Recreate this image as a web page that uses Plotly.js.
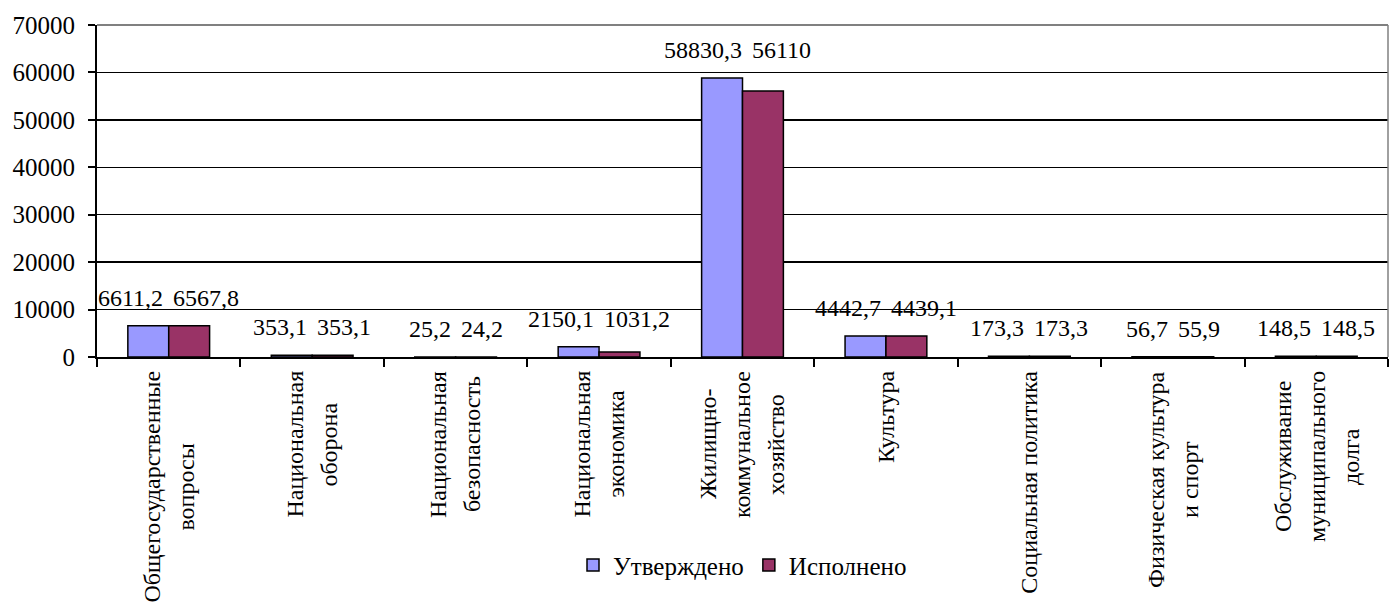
<!DOCTYPE html>
<html>
<head>
<meta charset="utf-8">
<script src="https://cdn.plot.ly/plotly-3.0.1.min.js"></script>
<style>html,body{margin:0;padding:0;background:#fff;}#chart{width:1390px;height:606px;}</style>
</head>
<body>
<div id="chart"></div>
<script>
const categories = [
  "Общегосударственные<br>вопросы",
  "Национальная<br>оборона",
  "Национальная<br>безопасность",
  "Национальная<br>экономика",
  "Жилищно-<br>коммунальное<br>хозяйство",
  "Культура",
  "Социальная политика",
  "Физическая культура<br>и спорт",
  "Обслуживание<br>муниципального<br>долга"
];
const approved = [6611.2, 353.1, 25.2, 2150.1, 58830.3, 4442.7, 173.3, 56.7, 148.5];
const executed = [6567.8, 353.1, 24.2, 1031.2, 56110, 4439.1, 173.3, 55.9, 148.5];
const seriesNames = ["Утверждено", "Исполнено"];
const yTicks = [0, 10000, 20000, 30000, 40000, 50000, 60000, 70000];

const FONT = '"Liberation Serif", "Times New Roman", Times, serif';
const FS = 24;
const fmt = v => String(v).replace('.', ',');
const idx = categories.map((c, i) => i);

const ctx = document.createElement('canvas').getContext('2d');
ctx.font = FS + 'px ' + FONT;
const textW = s => ctx.measureText(s).width;

const BARGAP = 0.43;
const barHalfOffset = (1 - BARGAP) / 4;      // bar centre offset from category centre (data units)
const PLOT_W = 1390 - 97 - 2;
const pxPerUnit = PLOT_W / 9;

const traces = [
  {type: 'bar', name: seriesNames[0], x: idx, y: approved,
   marker: {color: '#9999FF', line: {color: '#000', width: 1.5}}, hoverinfo: 'none'},
  {type: 'bar', name: seriesNames[1], x: idx, y: executed,
   marker: {color: '#993366', line: {color: '#000', width: 1.5}}, hoverinfo: 'none'}
];

const annotations = [];
const LINE_PITCH = 34;
const GAP = 10;
idx.forEach(i => {
  const top = Math.max(approved[i], executed[i]);
  const ta = fmt(approved[i]), te = fmt(executed[i]);
  const wa = textW(ta), we = textW(te);
  const sep = 2 * barHalfOffset * pxPerUnit;
  const overlap = Math.max(0, wa / 2 + we / 2 + GAP - sep);
  annotations.push({x: i - barHalfOffset, y: top, xref: 'x', yref: 'y', text: ta,
    showarrow: false, xanchor: 'center', yanchor: 'middle', xshift: -overlap / 2, yshift: 28,
    font: {family: FONT, size: FS, color: '#000'}});
  annotations.push({x: i + barHalfOffset, y: top, xref: 'x', yref: 'y', text: te,
    showarrow: false, xanchor: 'center', yanchor: 'middle', xshift: overlap / 2, yshift: 28,
    font: {family: FONT, size: FS, color: '#000'}});
  const lines = categories[i].split('<br>');
  const maxW = Math.max(...lines.map(textW));
  lines.forEach((ln, j) => {
    annotations.push({x: i, y: 0, xref: 'x', yref: 'paper', text: ln,
      showarrow: false, textangle: -90, xanchor: 'center', yanchor: 'middle',
      xshift: (j - (lines.length - 1) / 2) * LINE_PITCH,
      yshift: -14 - maxW / 2,
      font: {family: FONT, size: FS, color: '#000'}});
  });
});

const layout = {
  width: 1390, height: 606,
  margin: {l: 97, r: 2, t: 25, b: 249},
  paper_bgcolor: '#fff', plot_bgcolor: '#fff',
  barmode: 'group', bargap: BARGAP, bargroupgap: 0,
  showlegend: true,
  legend: {orientation: 'h', x: 0.5, xanchor: 'center', y: -0.627, yanchor: 'middle',
    font: {family: FONT, size: 25, color: '#000'}, itemwidth: 30, traceorder: 'normal'},
  xaxis: {type: 'linear', range: [-0.5, 8.5], tickvals: idx.map(i => i - 0.5).concat([8.5]),
    showticklabels: false, ticks: 'outside', ticklen: 8, tickwidth: 2, tickcolor: '#000',
    showgrid: false, zeroline: false, showline: true, linecolor: '#000', linewidth: 2,
    fixedrange: true},
  yaxis: {range: [0, 70000], tickvals: yTicks, ticktext: yTicks.map(String),
    ticks: 'outside', ticklen: 7, tickwidth: 2, tickcolor: '#000', ticklabelstandoff: 8,
    tickfont: {family: FONT, size: 25, color: '#000'},
    showgrid: true, gridcolor: '#000', gridwidth: 1.5, zeroline: false,
    showline: true, linecolor: '#000', linewidth: 2, fixedrange: true},
  annotations: annotations,
  shapes: [
    {type: 'line', xref: 'paper', yref: 'paper', x0: 0, x1: 1, y0: 1, y1: 1, line: {color: '#808080', width: 2}},
    {type: 'line', xref: 'paper', yref: 'paper', x0: 1, x1: 1, y0: 0, y1: 1, line: {color: '#808080', width: 1.5}}
  ]
};

Plotly.newPlot('chart', traces, layout, {displayModeBar: false, staticPlot: true});
</script>
</body>
</html>
